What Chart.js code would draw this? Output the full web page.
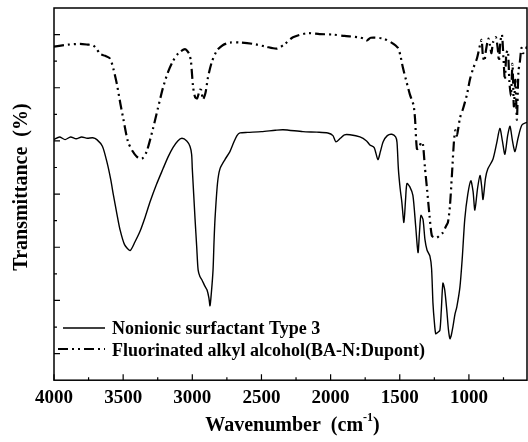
<!DOCTYPE html>
<html>
<head>
<meta charset="utf-8">
<script src="https://cdn.jsdelivr.net/npm/chart.js@4.4.1/dist/chart.umd.min.js"></script>
<style>
    html, body { margin: 0; padding: 0; background: #fff; }
    #wrap { width: 528px; height: 442px; }
</style>
</head>
<body>
<div id="wrap"><canvas id="ftirChart"></canvas></div>
<script>
// Nonionic surfactant Type 3 (solid line)
const surfWn = [4000, 3960, 3920, 3880, 3840, 3800, 3760, 3720, 3690, 3650, 3617, 3590, 3570, 3545, 3523, 3490, 3450, 3415, 3378, 3340,
    3306, 3260, 3212, 3175, 3140, 3105, 3075, 3040, 3017, 3005, 3000, 2990, 2980, 2968, 2958, 2945, 2930, 2910, 2894, 2880,
    2872, 2862, 2850, 2843, 2836, 2818, 2800, 2764, 2728, 2700, 2677, 2655, 2600, 2500, 2400, 2344, 2200, 2100, 2020, 1983,
    1962, 1930, 1900, 1860, 1788, 1740, 1716, 1685, 1658, 1640, 1620, 1590, 1557, 1530, 1520, 1510, 1497, 1485, 1470, 1458,
    1448, 1427, 1405, 1385, 1368, 1357, 1347, 1332, 1318, 1303, 1282, 1270, 1260, 1250, 1240, 1225, 1210, 1200, 1188, 1175,
    1160, 1148, 1137, 1127, 1116, 1100, 1087, 1065, 1048, 1030, 1008, 986, 970, 957, 938, 920, 908, 898, 880, 863,
    827, 800, 776, 758, 740, 720, 703, 685, 667, 645, 617, 580];
const surfT = [9.05, 9.15, 9.05, 9.15, 9.08, 9.15, 9.1, 9.12, 9.05, 8.8, 8.2, 7.55, 6.95, 6.25, 5.67, 5.1, 4.88, 5.2, 5.6, 6.15,
    6.7, 7.35, 7.95, 8.4, 8.75, 9.0, 9.1, 9.0, 8.8, 8.5, 7.95, 7.0, 6.05, 5.0, 4.15, 3.9, 3.77, 3.55, 3.4, 3.1,
    2.8, 3.3, 4.15, 5.2, 6.05, 7.4, 7.95, 8.3, 8.6, 8.95, 9.2, 9.3, 9.32, 9.35, 9.4, 9.42, 9.35, 9.33, 9.3, 9.2,
    8.97, 9.1, 9.23, 9.23, 9.15, 9.0, 8.85, 8.75, 8.3, 8.6, 8.97, 9.2, 9.25, 9.15, 8.95, 7.95, 7.2, 6.7, 5.93, 6.8,
    7.4, 7.27, 6.95, 5.8, 4.8, 5.6, 6.2, 6.05, 5.3, 4.9, 4.67, 4.2, 2.9, 2.2, 1.75, 1.8, 1.87, 2.6, 3.65, 3.4,
    2.63, 1.9, 1.56, 1.7, 2.0, 2.5, 2.77, 3.5, 4.6, 6.05, 7.0, 7.5, 7.1, 6.4, 7.2, 7.7, 7.3, 6.8, 7.6, 7.95,
    8.3, 8.9, 9.47, 9.0, 8.5, 9.2, 9.55, 9.0, 8.6, 9.1, 9.6, 9.7];

// Fluorinated alkyl alcohol (dash-dot line)
const fluoWn = [4000, 3900, 3812, 3750, 3718, 3690, 3667, 3630, 3595, 3570, 3545, 3520, 3500, 3465, 3430, 3400, 3364, 3330, 3284, 3250,
    3212, 3175, 3140, 3100, 3053, 3025, 3010, 2995, 2980, 2965, 2945, 2935, 2923, 2905, 2887, 2860, 2822, 2780, 2728, 2650,
    2561, 2470, 2388, 2330, 2272, 2171, 2080, 1983, 1900, 1800, 1760, 1737, 1710, 1620, 1560, 1513, 1495, 1477, 1450, 1427,
    1410, 1400, 1390, 1376, 1360, 1345, 1333, 1318, 1303, 1285, 1268, 1250, 1232, 1210, 1188, 1165, 1152, 1138, 1123, 1108,
    1098, 1087, 1076, 1065, 1043, 1014, 993, 971, 942, 920, 908, 899, 888, 877, 860, 848, 837, 826, 805, 790,
    783, 772, 761, 750, 740, 729, 718, 707, 696, 685, 675, 664, 653, 642, 631, 620, 610, 595, 580];
const fluoT = [12.55, 12.62, 12.65, 12.62, 12.6, 12.45, 12.27, 12.2, 12.1, 11.7, 11.13, 10.4, 9.86, 8.97, 8.6, 8.4, 8.33, 8.6, 9.47, 10.2,
    11.0, 11.6, 12.0, 12.3, 12.45, 12.3, 12.0, 11.06, 10.65, 10.6, 10.93, 10.9, 10.56, 10.8, 11.38, 11.95, 12.4, 12.6, 12.7, 12.7,
    12.65, 12.55, 12.47, 12.65, 12.9, 13.05, 13.02, 13.0, 12.95, 12.9, 12.85, 12.78, 12.88, 12.85, 12.7, 12.5, 12.2, 11.75, 11.2, 10.75,
    10.5, 10.35, 9.87, 8.7, 8.75, 8.95, 8.9, 8.0, 7.2, 6.2, 5.43, 5.37, 5.36, 5.45, 5.55, 5.8, 5.93, 6.5, 7.7, 9.0,
    9.4, 9.2, 9.5, 9.86, 10.2, 10.75, 11.3, 11.7, 12.1, 12.6, 12.8, 12.2, 12.0, 12.4, 12.85, 12.6, 12.3, 12.7, 12.9, 12.4,
    12.0, 12.75, 13.0, 12.1, 11.3, 12.3, 12.4, 11.2, 10.7, 11.9, 10.3, 11.3, 9.8, 11.6, 12.0, 12.5, 12.3, 12.4, 12.55];

const seriesLabels = ['Nonionic surfactant Type 3', 'Fluorinated alkyl alcohol(BA-N:Dupont)'];
const xTickLabels = [4000, 3500, 3000, 2500, 2000, 1500, 1000];
const xMinorTicks = [3750, 3250, 2750, 2250, 1750, 1250, 750];
const yTicks = [1, 2, 3, 4, 5, 6, 7, 8, 9, 10, 11, 12, 13];

const serif = '"Liberation Serif", "Times New Roman", serif';

function toPoints(xs, ys) {
    return xs.map((x, i) => ({ x: x, y: ys[i] }));
}

// Frame, inward ticks, axis titles and legend
const decorPlugin = {
    id: 'decor',
    afterDraw(chart) {
        const ctx = chart.ctx;
        const area = chart.chartArea;
        const xs = chart.scales.x;
        const ys = chart.scales.y;
        ctx.save();
        ctx.strokeStyle = '#000';
        ctx.fillStyle = '#000';

        // box
        ctx.lineWidth = 1.5;
        ctx.strokeRect(area.left, area.top, area.right - area.left, area.bottom - area.top);

        // inward ticks
        ctx.lineWidth = 1.2;
        ctx.beginPath();
        xTickLabels.forEach(v => {
            const px = xs.getPixelForValue(v);
            ctx.moveTo(px, area.bottom);
            ctx.lineTo(px, area.bottom - 6);
        });
        xMinorTicks.forEach(v => {
            const px = xs.getPixelForValue(v);
            ctx.moveTo(px, area.bottom);
            ctx.lineTo(px, area.bottom - 3);
        });
        yTicks.forEach(v => {
            const py = ys.getPixelForValue(v);
            ctx.moveTo(area.left, py);
            ctx.lineTo(area.left + (v % 2 === 1 ? 6 : 3), py);
        });
        ctx.stroke();

        // x title with superscript
        const cx = (area.left + area.right) / 2 + 2;
        const base = 431;
        const mainFont = 'bold 20px ' + serif;
        const supFont = 'bold 12px ' + serif;
        ctx.font = mainFont;
        const part1 = 'Wavenumber  (cm';
        const w1 = ctx.measureText(part1).width;
        const w3 = ctx.measureText(')').width;
        ctx.font = supFont;
        const w2 = ctx.measureText('-1').width;
        let x0 = cx - (w1 + w2 + w3) / 2;
        ctx.textBaseline = 'alphabetic';
        ctx.textAlign = 'left';
        ctx.font = mainFont;
        ctx.fillText(part1, x0, base);
        ctx.font = supFont;
        ctx.fillText('-1', x0 + w1, base - 10);
        ctx.font = mainFont;
        ctx.fillText(')', x0 + w1 + w2, base);

        // y title
        ctx.save();
        ctx.translate(22, 187);
        ctx.rotate(-Math.PI / 2);
        ctx.textAlign = 'center';
        ctx.textBaseline = 'middle';
        ctx.font = mainFont;
        ctx.fillText('Transmittance  (%)', 0, 0);
        ctx.restore();

        // legend
        const rows = [
            { y: 328, x1: 63, base: 334 },
            { y: 349, x1: 58, base: 356 }
        ];
        chart.data.datasets.forEach((ds, i) => {
            const r = rows[i];
            ctx.save();
            ctx.lineWidth = ds.borderWidth;
            ctx.setLineDash(ds.borderDash || []);
            ctx.beginPath();
            ctx.moveTo(r.x1, r.y);
            ctx.lineTo(105, r.y);
            ctx.stroke();
            ctx.restore();
            ctx.font = 'bold 18px ' + serif;
            ctx.textAlign = 'left';
            ctx.textBaseline = 'alphabetic';
            ctx.fillText(ds.label, 112, r.base);
        });

        ctx.restore();
    }
};

document.addEventListener('DOMContentLoaded', function() {
    const ctx = document.getElementById('ftirChart').getContext('2d');
    new Chart(ctx, {
        type: 'line',
        data: {
            datasets: [
                {
                    label: seriesLabels[0],
                    data: toPoints(surfWn, surfT),
                    borderColor: '#000',
                    borderWidth: 1.4,
                    pointRadius: 0,
                    tension: 0.25,
                    fill: false
                },
                {
                    label: seriesLabels[1],
                    data: toPoints(fluoWn, fluoT),
                    borderColor: '#000',
                    borderWidth: 2.2,
                    borderDash: [10, 4, 2, 4, 2, 4],
                    pointRadius: 0,
                    tension: 0.25,
                    fill: false
                }
            ]
        },
        options: {
            responsive: true,
            maintainAspectRatio: false,
            animation: false,
            layout: { padding: { left: 54, right: 1, top: 8, bottom: 27 } },
            plugins: {
                legend: { display: false },
                tooltip: { enabled: false }
            },
            scales: {
                x: {
                    type: 'linear',
                    reverse: true,
                    min: 580,
                    max: 4000,
                    grid: { display: false, drawTicks: false },
                    border: { display: false },
                    afterBuildTicks: function(scale) {
                        scale.ticks = xTickLabels.map(v => ({ value: v }));
                    },
                    ticks: {
                        color: '#000',
                        padding: 6,
                        maxRotation: 0,
                        autoSkip: false,
                        font: { family: serif, size: 19, weight: 'bold' },
                        callback: v => String(v)
                    }
                },
                y: {
                    display: false,
                    min: 0,
                    max: 14
                }
            }
        },
        plugins: [decorPlugin]
    });
});
</script>
</body>
</html>
